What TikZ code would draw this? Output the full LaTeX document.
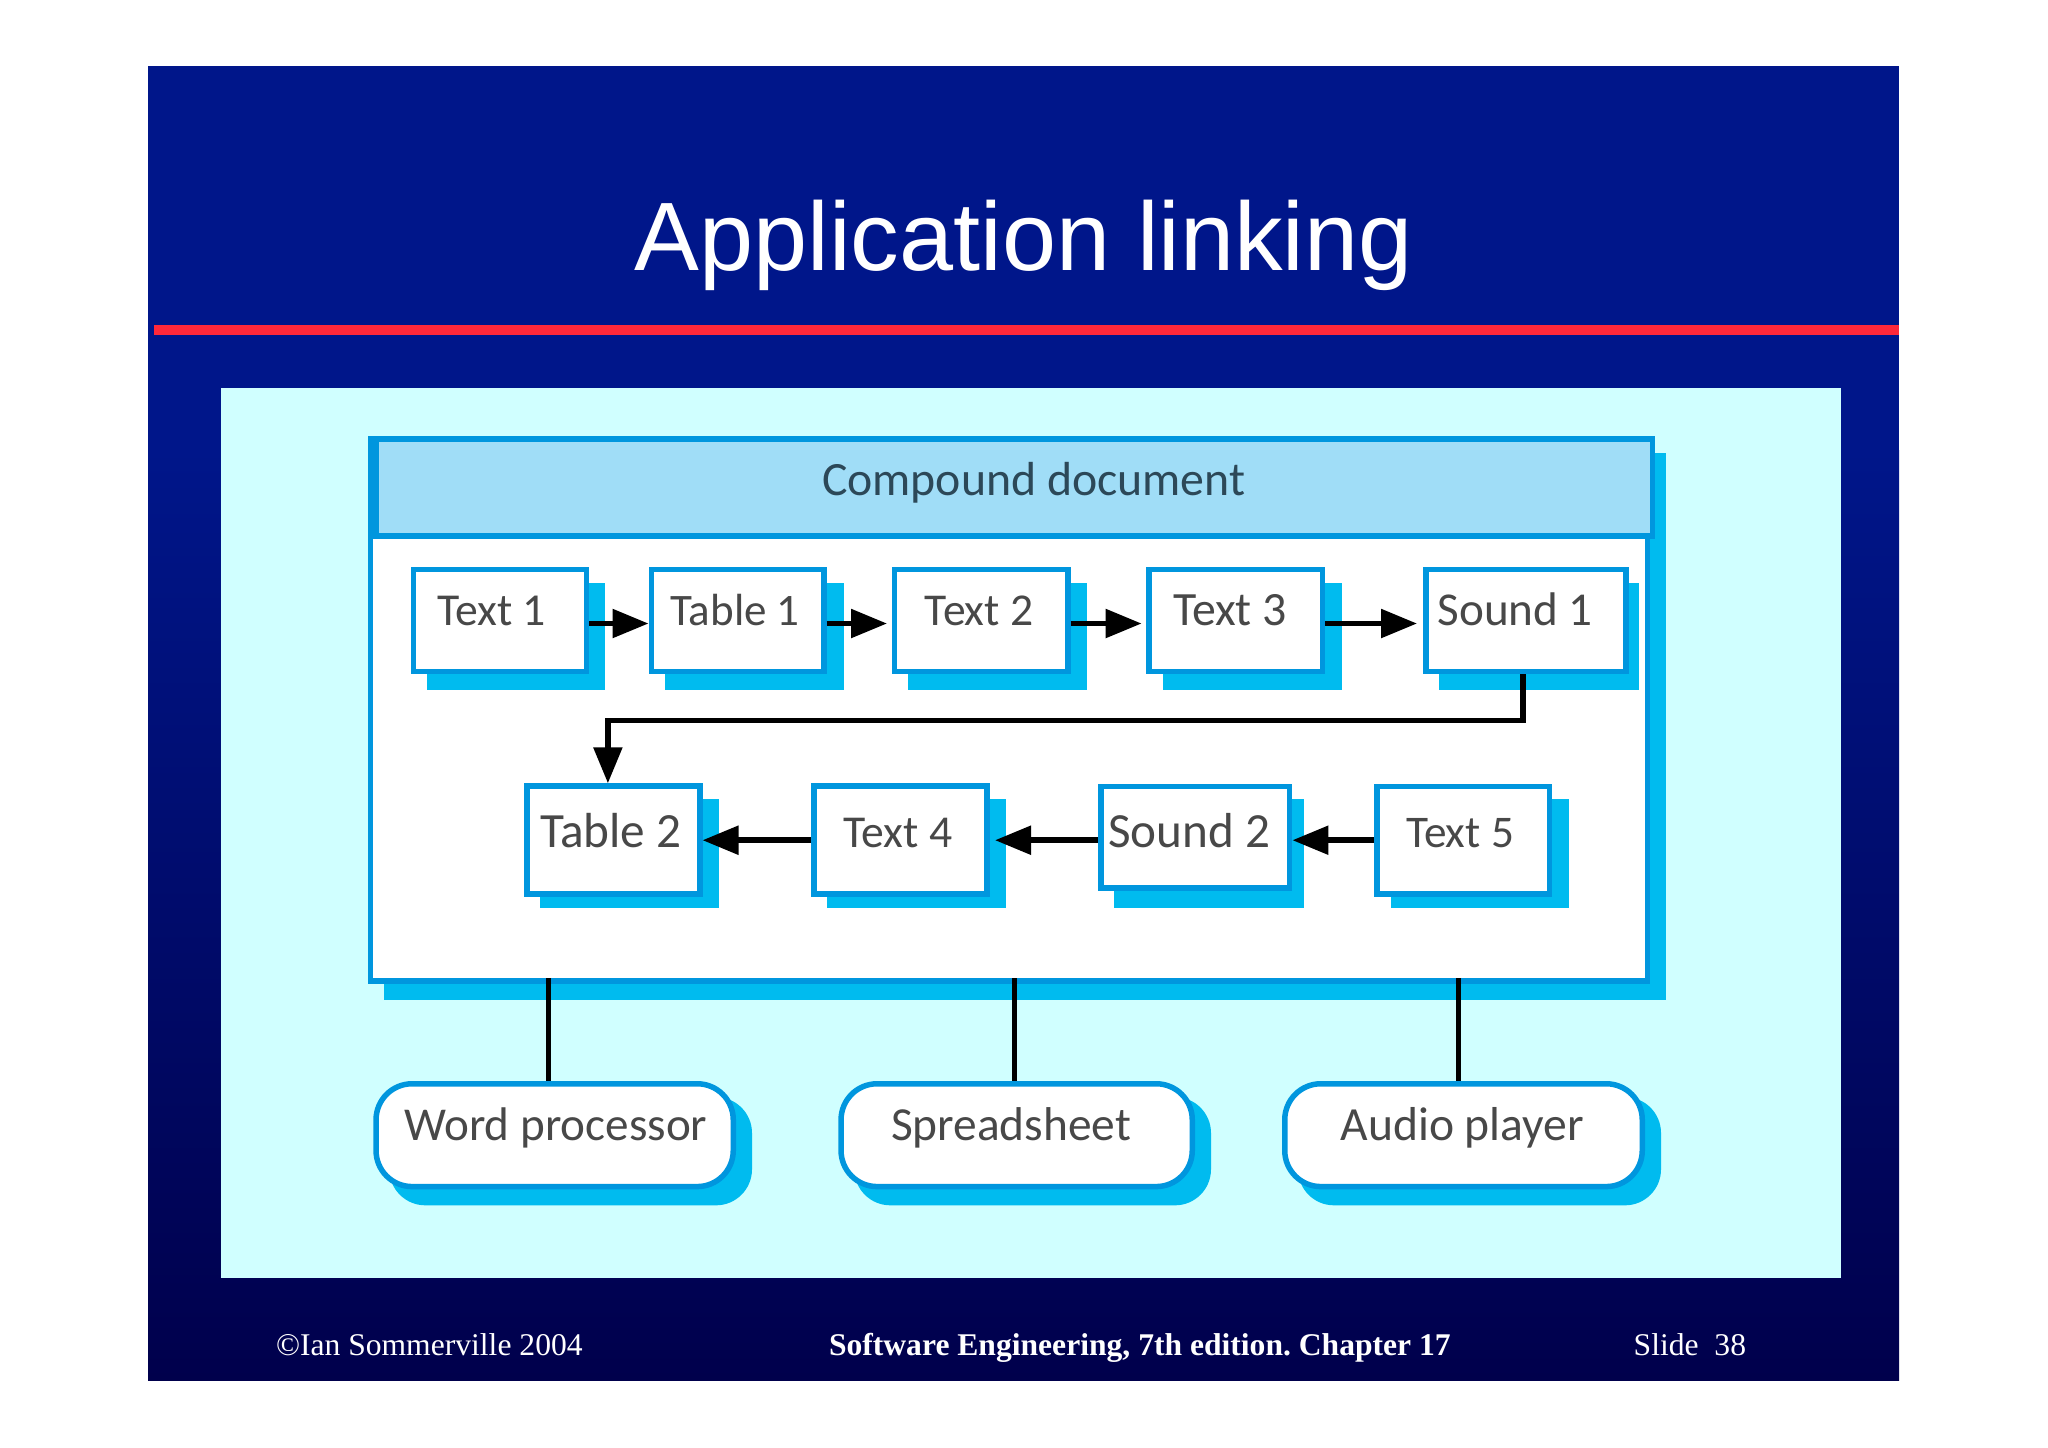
\documentclass[tikz,border=0pt]{standalone}
\usepackage{fontspec}
\usepackage{graphicx}
\usetikzlibrary{arrows.meta,calc}
\setmainfont{Liberation Serif}
\newfontfamily\arialf{Liberation Sans}
\newfontfamily\labelf{Carlito}
\definecolor{slidetop}{RGB}{0,22,138}
\definecolor{slidebot}{RGB}{0,0,76}
\definecolor{panelc}{RGB}{208,255,255}
\definecolor{borderc}{RGB}{0,150,222}
\definecolor{shadowc}{RGB}{0,187,239}
\definecolor{headc}{RGB}{160,221,247}
\definecolor{redc}{RGB}{255,40,58}
\definecolor{labelc}{RGB}{72,72,72}
\definecolor{titlec}{RGB}{44,72,88}
\tikzset{
  x=0.5pt,y=-0.5pt,
  boxstyle/.style={draw=borderc,fill=white,line width=2.75pt,inner sep=0pt,outer sep=1.375pt},
  lbl/.style={anchor=base west,inner sep=0pt,outer sep=0pt,text=labelc},
  footer/.style={anchor=base west,inner sep=0pt,outer sep=0pt,text=white,font=\fontsize{15.8}{18}\selectfont},
  link/.style={draw=black,line width=2.5pt},
  flow/.style={draw=black,line width=2.75pt,-{Triangle[length=18pt,width=14pt]}},
  pill/.style={boxstyle,rounded corners=18pt},
}
% name, outer l t r b, shadow l t r b
\newcommand{\docbox}[9]{%
  \fill[shadowc] (#6,#7) rectangle (#8,#9);
  \node[boxstyle,minimum width={(#4-#2-5.5)*0.5pt},minimum height={(#5-#3-5.5)*0.5pt}] (#1) at ({(#2+#4)/2},{(#3+#5)/2}) {};
}
% name, outer l t r b, shadow offset
\newcommand{\appbox}[5]{%
  \fill[shadowc,rounded corners=18pt] (#2+16,#3+16) rectangle (#4+16,#5+16);
  \node[pill,minimum width={(#4-#2-5.5)*0.5pt},minimum height={(#5-#3-5.5)*0.5pt}] (#1) at ({(#2+#4)/2},{(#3+#5)/2}) {};
}
% name, x, baseline, width, text
\newcommand{\boxlabel}[5]{%
  \node[lbl] (#1) at (#2,#3) {\resizebox{\dimexpr #4pt/2\relax}{!}{\labelf\fontsize{23}{26}\selectfont #5}};
}
\begin{document}
\frenchspacing
\begin{tikzpicture}
\useasboundingbox (0,0) rectangle (2048,1447);
\fill[white] (0,0) rectangle (2048,1447);
\fill[slidetop] (148,66) rectangle (1899,451);
\shade[top color=slidetop,bottom color=slidebot] (148,450) rectangle (1899,1380);
\fill[redc] (153.6,324.8) rectangle (1899,335.2);
\fill[panelc] (221.4,388) rectangle (1841.4,1278.3);

\node[anchor=base west,inner sep=0pt,text=white,font=\arialf\fontsize{48.6}{54}\selectfont] (title) at (634.4,270) {Application linking};

% compound document frame
\fill[shadowc] (384,452.5) rectangle (1666,999.5);
\node[boxstyle,minimum width={(1650.4-367.7-5.5)*0.5pt},minimum height={(983.5-436-5.5)*0.5pt}] (frame) at ({(367.7+1650.4)/2},{(436+983.5)/2}) {};
\node[boxstyle,fill=headc,minimum width={(1655.4-373-5.5)*0.5pt},minimum height={(538.7-436-5.5)*0.5pt}] (header) at ({(373+1655.4)/2},{(436+538.7)/2}) {};
\node[lbl,text=titlec] (headlabel) at (822,495) {\resizebox{\dimexpr 423.5pt/2\relax}{!}{\labelf\fontsize{24}{28}\selectfont Compound document}};

% row 1
\docbox{textone}{410.5}{566.7}{589}{674.3}{426.6}{582.7}{605}{690.3}
\docbox{tableone}{648.5}{566.7}{826.6}{674.3}{664.5}{582.7}{843.6}{690.3}
\docbox{texttwo}{891.8}{566.7}{1070.5}{674.3}{908}{582.7}{1087}{690.3}
\docbox{textthree}{1146.4}{566.7}{1325}{674.3}{1162.9}{582.7}{1341.5}{690.3}
\docbox{soundone}{1423}{566.7}{1628.6}{674.3}{1438.8}{582.7}{1639}{690.3}
% row 2
\docbox{tabletwo}{524.4}{783.3}{702.5}{896.7}{540.4}{799}{719}{907.7}
\docbox{textfour}{811.4}{783.3}{989.5}{896.7}{827.4}{799}{1005.6}{907.7}
\docbox{soundtwo}{1098}{783.6}{1292.4}{890.7}{1113.8}{799}{1303.6}{907.5}
\docbox{textfive}{1374}{783.6}{1552}{896.5}{1390.6}{799}{1569}{907.5}

\boxlabel{ltextone}{437}{625}{109}{Text 1}
\boxlabel{ltableone}{670.4}{625}{129.4}{Table 1}
\boxlabel{ltexttwo}{924.8}{625}{108.7}{Text 2}
\boxlabel{ltextthree}{1173}{625}{114}{Text 3}
\boxlabel{lsoundone}{1437.5}{625}{155.4}{Sound 1}
\boxlabel{ltabletwo}{540}{847.4}{141.5}{Table 2}
\boxlabel{ltextfour}{843.6}{847.4}{108.9}{Text 4}
\boxlabel{lsoundtwo}{1108}{847.4}{162}{Sound 2}
\boxlabel{ltextfive}{1406}{847.4}{108}{Text 5}

% application boxes
\appbox{word}{373.3}{1081}{736}{1189.3}
\appbox{sheet}{838.3}{1081}{1195}{1189.3}
\appbox{audio}{1282}{1081}{1645}{1189.3}
\boxlabel{lword}{404.3}{1140}{303}{Word processor}
\boxlabel{lsheet}{891}{1140}{240}{Spreadsheet}
\boxlabel{laudio}{1340.6}{1140}{243.4}{Audio player}

% routing coordinates
\coordinate (rowone) at (0,623.5);
\coordinate (rowtwo) at (0,840.2);
\coordinate (elbowy) at (0,720.5);
\coordinate (elbowr) at (1523,0);
\coordinate (elbowl) at (607.9,0);
\coordinate (wordx) at (548.4,0);
\coordinate (sheetx) at (1014,0);
\coordinate (audiox) at (1458,0);

\draw[flow] (textone.east |- rowone) -- (tableone.west |- rowone);
\draw[flow,shorten >=2.4pt] (tableone.east |- rowone) -- (texttwo.west |- rowone);
\draw[flow,shorten >=2.4pt] (texttwo.east |- rowone) -- (textthree.west |- rowone);
\draw[flow,shorten >=3pt] (textthree.east |- rowone) -- (soundone.west |- rowone);
\draw[flow] (elbowr |- soundone.south) -- (elbowr |- elbowy) -- (elbowl |- elbowy) -- (elbowl |- tabletwo.north);
\draw[flow] (textfour.west |- rowtwo) -- (tabletwo.east |- rowtwo);
\draw[flow,shorten >=2.75pt] (soundtwo.west |- rowtwo) -- (textfour.east |- rowtwo);
\draw[flow] (textfive.west |- rowtwo) -- (soundtwo.east |- rowtwo);

\draw[link,shorten <=-2.75pt] (wordx |- frame.south) -- (wordx |- word.north);
\draw[link,shorten <=-2.75pt] (sheetx |- frame.south) -- (sheetx |- sheet.north);
\draw[link,shorten <=-2.75pt] (audiox |- frame.south) -- (audiox |- audio.north);

% footer
\node[footer] (fcopy) at (276,1355) {©Ian Sommerville 2004};
\node[footer,font=\fontsize{15.8}{18}\selectfont\bfseries] (fbook) at (829,1355) {Software Engineering, 7th edition. Chapter 17};
\node[footer] (fslide) at (1633.7,1355) {Slide\ \ 38};
\end{tikzpicture}
\end{document}
